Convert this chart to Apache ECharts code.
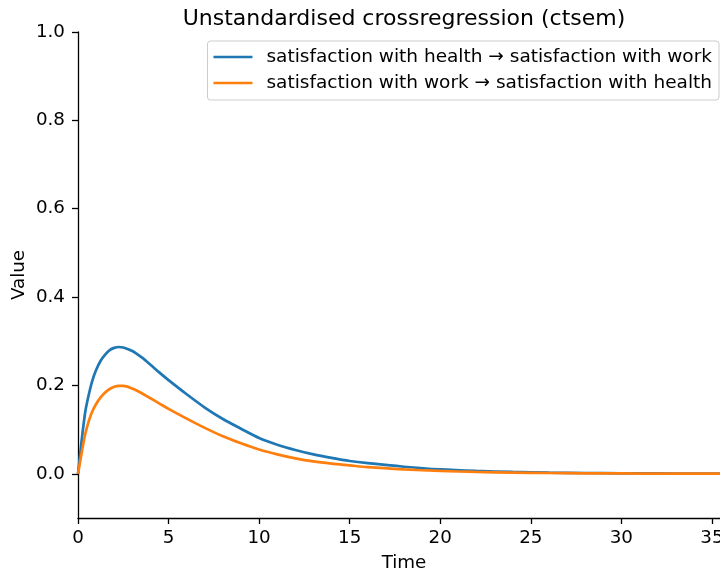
<!DOCTYPE html>
<html>
<head>
<meta charset="utf-8">
<script src="https://cdn.jsdelivr.net/npm/echarts@6/dist/echarts.min.js"></script>
<style>
html,body{margin:0;padding:0;background:#fff;}
#chart{width:720px;height:575px;}
</style>
</head>
<body>
<div id="chart"></div>
<script>
var titleText = 'Unstandardised crossregression (ctsem)';
var yAxisTitle = 'Value';
var xAxisTitle = 'Time';
var seriesNames = ['satisfaction with health \u2192 satisfaction with work', 'satisfaction with work \u2192 satisfaction with health'];
var timePoints = [0, 0.2, 0.4, 0.6, 0.8, 1.0, 1.25, 1.5, 1.75, 2.0, 2.25, 2.5, 3.0, 3.5, 4.0, 4.5, 5.0, 6.0, 7.0, 8.0, 9.0, 10.0, 11.0, 12.0, 13.0, 14.0, 15.0, 16.0, 18.0, 20.0, 22.0, 24.0, 26.0, 28.0, 30.0, 32.0, 34.0, 36.0];
var healthToWork = [0, 0.075, 0.140, 0.180, 0.212, 0.235, 0.256, 0.270, 0.280, 0.285, 0.287, 0.286, 0.278, 0.264, 0.247, 0.229, 0.212, 0.180, 0.150, 0.124, 0.102, 0.081, 0.066, 0.054, 0.044, 0.036, 0.029, 0.024, 0.016, 0.010, 0.0065, 0.0043, 0.0028, 0.0018, 0.0012, 0.0008, 0.0005, 0.0003];
var workToHealth = [0, 0.047, 0.090, 0.120, 0.142, 0.158, 0.173, 0.184, 0.192, 0.197, 0.199, 0.199, 0.193, 0.183, 0.171, 0.159, 0.147, 0.125, 0.104, 0.085, 0.069, 0.055, 0.044, 0.035, 0.028, 0.023, 0.019, 0.015, 0.010, 0.0065, 0.0042, 0.0028, 0.0018, 0.0012, 0.0008, 0.0005, 0.0003, 0.0002];
var xTicks = [0, 5, 10, 15, 20, 25, 30, 35];
var yTicks = [0, 0.2, 0.4, 0.6, 0.8, 1.0];

function pairs(xs, ys) { return xs.map(function (x, i) { return [x, ys[i]]; }); }

var font = 'DejaVu Sans';
var fs = 18.3;
var chart = echarts.init(document.getElementById('chart'), null, {renderer: 'canvas'});
chart.setOption({
  animation: false,
  backgroundColor: '#ffffff',
  title: {
    text: titleText, left: 399, textAlign: 'center', top: 3,
    textStyle: {fontFamily: font, fontSize: 22, fontWeight: 'normal', color: '#000'}
  },
  grid: {left: 78, top: 32, right: -10, bottom: 57, containLabel: false, outerBoundsMode: 'none'},
  legend: {
    orient: 'vertical', right: 1, top: 41,
    data: seriesNames,
    icon: 'rect',
    itemWidth: 39, itemHeight: 2.6, itemGap: 4,
    padding: [5, 7, 6, 6],
    backgroundColor: 'rgba(255,255,255,0.8)',
    borderColor: '#cccccc', borderWidth: 1, borderRadius: 3,
    textStyle: {fontFamily: font, fontSize: 18.5, color: '#000', lineHeight: 22, padding: [0, 0, 0, 9]}
  },
  graphic: [{
    type: 'text', x: 19, y: 275, rotation: Math.PI / 2, silent: true,
    style: {text: yAxisTitle, font: fs + 'px "DejaVu Sans"', fill: '#000', align: 'center', verticalAlign: 'middle'}
  }],
  xAxis: {
    type: 'value', min: 0, max: 36,
    name: xAxisTitle, nameLocation: 'middle', nameGap: 36,
    nameTextStyle: {fontFamily: font, fontSize: fs, color: '#000'},
    axisLine: {show: true, onZero: false, lineStyle: {color: '#000', width: 1.3}},
    axisTick: {show: true, inside: false, length: 6, lineStyle: {color: '#000', width: 1.3}, customValues: xTicks},
    axisLabel: {fontFamily: font, fontSize: fs, color: '#000', margin: 11, customValues: xTicks},
    splitLine: {show: false}
  },
  yAxis: {
    type: 'value', min: -0.1, max: 1.0,
    axisLine: {show: true, onZero: false, lineStyle: {color: '#000', width: 1.3}},
    axisTick: {show: true, inside: false, length: 6, lineStyle: {color: '#000', width: 1.3}, customValues: yTicks},
    axisLabel: {fontFamily: font, fontSize: fs, color: '#000', margin: 13, customValues: yTicks,
      formatter: function (v) { return Number(v).toFixed(1); }},
    splitLine: {show: false}
  },
  series: [
    {name: seriesNames[0], type: 'line', data: pairs(timePoints, healthToWork), symbol: 'none', showSymbol: false,
     smooth: 0.3, lineStyle: {color: '#1f77b4', width: 2.7}, itemStyle: {color: '#1f77b4'}},
    {name: seriesNames[1], type: 'line', data: pairs(timePoints, workToHealth), symbol: 'none', showSymbol: false,
     smooth: 0.3, lineStyle: {color: '#ff7f0e', width: 2.7}, itemStyle: {color: '#ff7f0e'}}
  ]
});
</script>
</body>
</html>
